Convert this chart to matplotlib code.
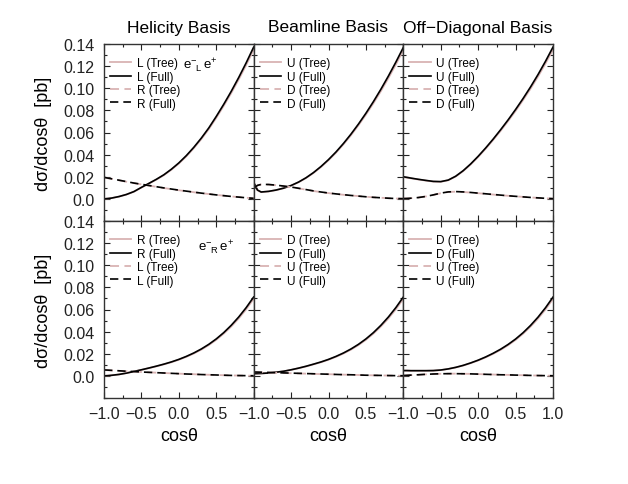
import matplotlib
matplotlib.use("Agg")
import matplotlib.pyplot as plt
from matplotlib.ticker import MultipleLocator, FixedLocator, FixedFormatter

# cos(theta) sampling points
cos_t = [-1.0, -0.95, -0.9, -0.8, -0.7, -0.6, -0.5, -0.4, -0.3, -0.2, -0.1,
         0.0, 0.1, 0.2, 0.3, 0.4, 0.5, 0.6, 0.7, 0.8, 0.9, 1.0]

# --- top row: e-_L e+ ---
hel_L_full = [0.0000, 0.0003, 0.0007, 0.0021, 0.0040, 0.0066, 0.0104, 0.0140, 0.0177, 0.0218, 0.0268,
              0.0325, 0.0391, 0.0466, 0.0549, 0.0641, 0.0745, 0.0855, 0.0972, 0.1097, 0.1230, 0.1372]
hel_L_tree = [0.0000, 0.0003, 0.0007, 0.0020, 0.0039, 0.0065, 0.0102, 0.0138, 0.0174, 0.0214, 0.0263,
              0.0319, 0.0384, 0.0458, 0.0540, 0.0630, 0.0732, 0.0841, 0.0956, 0.1079, 0.1210, 0.1350]
hel_R_full = [0.0195, 0.0188, 0.0182, 0.0169, 0.0156, 0.0143, 0.0132, 0.0121, 0.0110, 0.0099, 0.0089,
              0.0079, 0.0070, 0.0061, 0.0052, 0.0044, 0.0036, 0.0029, 0.0022, 0.0016, 0.0010, 0.0005]
hel_R_tree = [0.0193, 0.0187, 0.0181, 0.0168, 0.0155, 0.0142, 0.0131, 0.0120, 0.0109, 0.0098, 0.0088,
              0.0078, 0.0069, 0.0060, 0.0052, 0.0044, 0.0036, 0.0029, 0.0022, 0.0016, 0.0010, 0.0005]

beam_U_full = [0.0150, 0.0080, 0.0062, 0.0068, 0.0080, 0.0097, 0.0121, 0.0152, 0.0191, 0.0238, 0.0293,
               0.0355, 0.0424, 0.0501, 0.0585, 0.0676, 0.0774, 0.0879, 0.0991, 0.1110, 0.1236, 0.1369]
beam_U_tree = [0.0148, 0.0079, 0.0061, 0.0067, 0.0079, 0.0096, 0.0119, 0.0150, 0.0188, 0.0234, 0.0288,
               0.0349, 0.0417, 0.0493, 0.0575, 0.0665, 0.0761, 0.0864, 0.0974, 0.1091, 0.1215, 0.1347]
beam_D_full = [0.0095, 0.0122, 0.0131, 0.0130, 0.0124, 0.0116, 0.0107, 0.0096, 0.0084, 0.0072, 0.0062,
               0.0053, 0.0045, 0.0038, 0.0031, 0.0025, 0.0019, 0.0014, 0.0010, 0.0006, 0.0003, 0.0002]
beam_D_tree = [0.0094, 0.0121, 0.0130, 0.0129, 0.0123, 0.0115, 0.0106, 0.0095, 0.0083, 0.0071, 0.0061,
               0.0052, 0.0044, 0.0037, 0.0031, 0.0025, 0.0019, 0.0014, 0.0010, 0.0006, 0.0003, 0.0002]

off_U_full = [0.0200, 0.0194, 0.0188, 0.0177, 0.0167, 0.0158, 0.0156, 0.0170, 0.0205, 0.0255, 0.0316,
              0.0385, 0.0460, 0.0540, 0.0625, 0.0714, 0.0808, 0.0907, 0.1012, 0.1124, 0.1244, 0.1372]
off_U_tree = [0.0198, 0.0192, 0.0186, 0.0175, 0.0165, 0.0156, 0.0154, 0.0168, 0.0202, 0.0251, 0.0311,
              0.0379, 0.0453, 0.0532, 0.0615, 0.0703, 0.0795, 0.0893, 0.0996, 0.1106, 0.1224, 0.1350]
off_D_full = [0.0003, 0.0004, 0.0006, 0.0012, 0.0022, 0.0036, 0.0052, 0.0063, 0.0066, 0.0063, 0.0058,
              0.0052, 0.0046, 0.0040, 0.0034, 0.0028, 0.0023, 0.0018, 0.0013, 0.0009, 0.0005, 0.0002]
off_D_tree = [0.0003, 0.0004, 0.0006, 0.0012, 0.0022, 0.0035, 0.0051, 0.0062, 0.0065, 0.0062, 0.0057,
              0.0051, 0.0045, 0.0039, 0.0033, 0.0028, 0.0023, 0.0018, 0.0013, 0.0009, 0.0005, 0.0002]

# --- bottom row: e-_R e+ ---
hel2_R_full = [0.0000, 0.0002, 0.0005, 0.0013, 0.0025, 0.0040, 0.0055, 0.0071, 0.0088, 0.0106, 0.0126,
               0.0149, 0.0176, 0.0207, 0.0243, 0.0285, 0.0334, 0.0391, 0.0457, 0.0532, 0.0617, 0.0713]
hel2_R_tree = [0.0000, 0.0002, 0.0005, 0.0013, 0.0025, 0.0039, 0.0054, 0.0070, 0.0086, 0.0104, 0.0123,
               0.0146, 0.0172, 0.0202, 0.0237, 0.0278, 0.0326, 0.0382, 0.0446, 0.0519, 0.0602, 0.0697]
hel2_L_full = [0.0054, 0.0052, 0.0050, 0.0046, 0.0042, 0.0039, 0.0035, 0.0032, 0.0029, 0.0026, 0.0023,
               0.0020, 0.0017, 0.0015, 0.0012, 0.0010, 0.0008, 0.0006, 0.0004, 0.0003, 0.0002, 0.0001]
hel2_L_tree = [0.0053, 0.0051, 0.0049, 0.0045, 0.0042, 0.0038, 0.0035, 0.0032, 0.0029, 0.0026, 0.0023,
               0.0020, 0.0017, 0.0015, 0.0012, 0.0010, 0.0008, 0.0006, 0.0004, 0.0003, 0.0002, 0.0001]

beam2_D_full = [0.0020, 0.0021, 0.0022, 0.0026, 0.0033, 0.0042, 0.0055, 0.0070, 0.0087, 0.0106, 0.0126,
                0.0149, 0.0176, 0.0207, 0.0243, 0.0285, 0.0334, 0.0391, 0.0457, 0.0532, 0.0617, 0.0713]
beam2_D_tree = [0.0020, 0.0021, 0.0022, 0.0026, 0.0033, 0.0041, 0.0054, 0.0069, 0.0085, 0.0104, 0.0123,
                0.0146, 0.0172, 0.0202, 0.0237, 0.0278, 0.0326, 0.0382, 0.0446, 0.0519, 0.0602, 0.0697]
beam2_U_full = [0.0035, 0.0034, 0.0033, 0.0031, 0.0029, 0.0027, 0.0025, 0.0023, 0.0021, 0.0019, 0.0017,
                0.0015, 0.0013, 0.0011, 0.0010, 0.0008, 0.0006, 0.0005, 0.0004, 0.0003, 0.0002, 0.0001]
beam2_U_tree = [0.0034, 0.0033, 0.0032, 0.0030, 0.0028, 0.0026, 0.0024, 0.0022, 0.0020, 0.0018, 0.0016,
                0.0015, 0.0013, 0.0011, 0.0010, 0.0008, 0.0006, 0.0005, 0.0004, 0.0003, 0.0002, 0.0001]

off2_D_full = [0.0048, 0.0048, 0.0047, 0.0047, 0.0047, 0.0048, 0.0053, 0.0063, 0.0077, 0.0095, 0.0117,
               0.0142, 0.0171, 0.0204, 0.0241, 0.0284, 0.0333, 0.0390, 0.0456, 0.0531, 0.0616, 0.0712]
off2_D_tree = [0.0047, 0.0047, 0.0046, 0.0046, 0.0046, 0.0047, 0.0052, 0.0062, 0.0076, 0.0093, 0.0115,
               0.0139, 0.0167, 0.0199, 0.0235, 0.0277, 0.0325, 0.0381, 0.0445, 0.0518, 0.0601, 0.0696]
off2_U_full = [0.0003, 0.0005, 0.0007, 0.0010, 0.0014, 0.0017, 0.0019, 0.0020, 0.0020, 0.0019, 0.0018,
               0.0016, 0.0014, 0.0012, 0.0010, 0.0009, 0.0007, 0.0006, 0.0004, 0.0003, 0.0002, 0.0001]
off2_U_tree = [0.0003, 0.0005, 0.0007, 0.0010, 0.0014, 0.0017, 0.0019, 0.0020, 0.0020, 0.0019, 0.0018,
               0.0016, 0.0014, 0.0012, 0.0010, 0.0009, 0.0007, 0.0006, 0.0004, 0.0003, 0.0002, 0.0001]

titles = ["Helicity Basis", "Beamline Basis", "Off\u2212Diagonal Basis"]
ytick_vals = [0.0, 0.02, 0.04, 0.06, 0.08, 0.10, 0.12, 0.14]
ytick_labels = ["0.0", "0.02", "0.04", "0.06", "0.08", "0.10", "0.12", "0.14"]
xtick_vals = [-1.0, -0.5, 0.0, 0.5, 1.0]
xtick_labels = ["\u22121.0", "\u22120.5", "0.0", "0.5", "1.0"]

# rows of panels: (solid name, solid tree, solid full, dashed name, dashed tree, dashed full)
panels = [
    [("L", hel_L_tree, hel_L_full, "R", hel_R_tree, hel_R_full),
     ("U", beam_U_tree, beam_U_full, "D", beam_D_tree, beam_D_full),
     ("U", off_U_tree, off_U_full, "D", off_D_tree, off_D_full)],
    [("R", hel2_R_tree, hel2_R_full, "L", hel2_L_tree, hel2_L_full),
     ("D", beam2_D_tree, beam2_D_full, "U", beam2_U_tree, beam2_U_full),
     ("D", off2_D_tree, off2_D_full, "U", off2_U_tree, off2_U_full)],
]
beam_labels = [r"$\mathregular{e^{-}_{\;\;L}\,e^{+}}$", r"$\mathregular{e^{-}_{\;\;R}\,e^{+}}$"]

plt.rcParams['font.family'] = ['Liberation Sans', 'DejaVu Sans']
plt.rcParams['mathtext.fontset'] = 'custom'
plt.rcParams['mathtext.rm'] = 'Liberation Sans'

tree_col = "#d9b3b3"
full_col = "black"
dash = (5, 3)

fig, axes = plt.subplots(2, 3, figsize=(6.28, 4.85), dpi=100)
fig.subplots_adjust(left=104/628, right=553/628, top=1-45/485, bottom=1-399/485,
                    wspace=0, hspace=0)

for r in range(2):
    for c in range(3):
        ax = axes[r, c]
        sname, s_tree, s_full, dname, d_tree, d_full = panels[r][c]
        ax.plot(cos_t, s_tree, color=tree_col, lw=1.3, label=f"{sname} (Tree)")
        ax.plot(cos_t, s_full, color=full_col, lw=1.2, label=f"{sname} (Full)")
        ax.plot(cos_t, d_tree, color=tree_col, lw=1.3, dashes=dash, label=f"{dname} (Tree)")
        ax.plot(cos_t, d_full, color=full_col, lw=1.2, dashes=dash, label=f"{dname} (Full)")

        ax.set_xlim(-1, 1)
        ax.set_ylim(-0.02, 0.14)
        ax.yaxis.set_major_locator(FixedLocator(ytick_vals))
        ax.yaxis.set_major_formatter(FixedFormatter(ytick_labels))
        ax.yaxis.set_minor_locator(MultipleLocator(0.01))
        ax.xaxis.set_major_locator(FixedLocator(xtick_vals))
        xl = xtick_labels if c == 2 else xtick_labels[:-1] + [""]
        ax.xaxis.set_major_formatter(FixedFormatter(xl))
        ax.xaxis.set_minor_locator(MultipleLocator(0.25))
        ax.tick_params(which='both', direction='in', top=True, right=True, labelsize=11.5, colors='#222222')
        ax.tick_params(which='major', length=4, width=0.8)
        ax.tick_params(which='minor', length=2.5, width=0.8)
        ax.tick_params(axis='y', pad=7, labelleft=(c == 0))
        ax.tick_params(axis='x', pad=6, labelbottom=(r == 1))
        for sp in ax.spines.values():
            sp.set_color('#333333')
            sp.set_linewidth(1.0)

        ax.legend(loc='upper left', bbox_to_anchor=(0.04, 0.925), frameon=False,
                  fontsize=8.5, handlelength=1.8, handletextpad=0.5,
                  labelspacing=0.12, borderpad=0, borderaxespad=0)

        if r == 0:
            ax.set_title(titles[c], fontsize=12.5, pad=9)
        if r == 1:
            ax.set_xlabel("cos\u03b8", fontsize=13, labelpad=4)
        if c == 0:
            ax.set_ylabel("d\u03c3/dcos\u03b8  [pb]", fontsize=13, labelpad=8)

axes[0, 0].text(0.53, 0.865, beam_labels[0], transform=axes[0, 0].transAxes, fontsize=9.5)
axes[1, 0].text(0.63, 0.835, beam_labels[1], transform=axes[1, 0].transAxes, fontsize=9.5)

fig.savefig("out.png", dpi=100)
